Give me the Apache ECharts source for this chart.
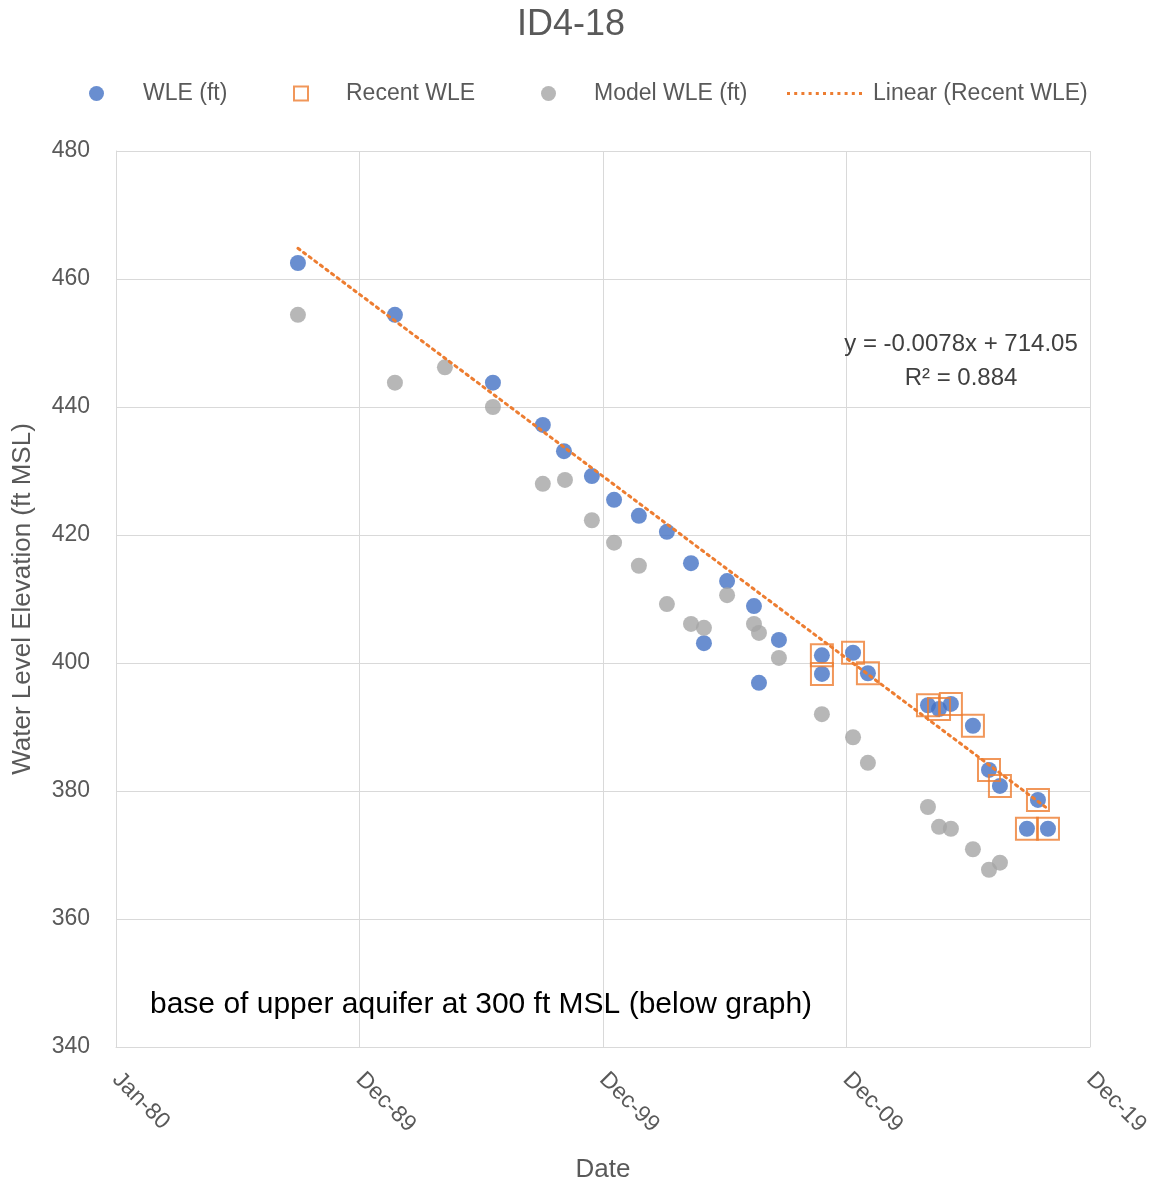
<!DOCTYPE html>
<html>
<head>
<meta charset="utf-8">
<script src="https://cdn.jsdelivr.net/npm/echarts@6/dist/echarts.min.js"></script>
<style>
  html, body { margin: 0; padding: 0; background: #ffffff; }
  #chart { width: 1154px; height: 1187px; }
</style>
</head>
<body>
<div id="chart"></div>
<script>
// ---- data ----
var xTickLabels = ['Jan-80', 'Dec-89', 'Dec-99', 'Dec-09', 'Dec-19'];
var yTicks = [340, 360, 380, 400, 420, 440, 460, 480];

var wleDates = ['1987-06-20','1991-06-13','1995-06-21','1997-07-08','1998-05-21','1999-07-13','2000-06-10',
  '2001-06-17','2002-08-11','2003-08-07','2004-02-17','2005-01-29','2006-03-08','2006-05-22','2007-03-17',
  '2008-12-20','2008-12-21','2010-04-01','2010-11-10','2013-04-28','2013-10-11','2014-04-07','2015-03-03',
  '2015-10-30','2016-04-11','2017-05-21','2017-11-02','2018-04-01'];
var wleValues = [462.5,454.4,443.8,437.2,433.1,429.2,425.5,
  423.0,420.5,415.6,403.1,412.8,408.9,396.9,403.6,
  401.2,398.3,401.6,398.4,393.4,392.8,393.6,390.2,
  383.3,380.8,374.1,378.6,374.1];

var recentDates = ['2008-12-20','2008-12-21','2010-04-01','2010-11-10','2013-04-28','2013-10-11','2014-04-07',
  '2015-03-03','2015-10-30','2016-04-11','2017-05-21','2017-11-02','2018-04-01'];
var recentValues = [401.2,398.3,401.6,398.4,393.4,392.8,393.6,390.2,383.3,380.8,374.1,378.6,374.1];

var modelDates = ['1987-06-20','1991-06-13','1993-07-01','1995-06-21','1997-07-08','1998-06-05','1999-07-13',
  '2000-06-10','2001-06-17','2002-08-11','2003-08-07','2004-02-17','2005-01-29','2006-03-08','2006-05-22',
  '2007-03-17','2008-12-20','2010-04-01','2010-11-10','2013-04-28','2013-10-11','2014-04-07','2015-03-03',
  '2015-10-30','2016-04-11'];
var modelValues = [454.4,443.8,446.2,440.0,428.0,428.6,422.3,
  418.8,415.2,409.2,406.1,405.5,410.6,406.1,404.7,
  400.8,392.0,388.4,384.4,377.5,374.4,374.1,370.9,
  367.7,368.8];

var trendDates = ['1987-06-20', '2018-04-01'];
var trendValues = [464.8, 377.2];

var equationText = 'y = -0.0078x + 714.05';
var r2Text = 'R\u00B2 = 0.884';
var noteText = 'base of upper aquifer at 300 ft MSL (below graph)';

// ---- helpers ----
var EXCEL_EPOCH = Date.UTC(1899, 11, 30);
function serial(s) {
  return Math.round((Date.parse(s + 'T00:00:00Z') - EXCEL_EPOCH) / 86400000);
}
function pairs(dates, values) {
  return dates.map(function (d, i) { return [serial(d), values[i]]; });
}
var X_MIN = serial('1980-01-01');
var X_INT = 3650;
var X_MAX = X_MIN + X_INT * (xTickLabels.length - 1);

// dotted legend icon (a row of small squares)
var dotPath = 'path://';
for (var k = 0; k < 11; k++) {
  var x0 = k * 7.2;
  dotPath += 'M' + x0.toFixed(1) + ',0h3v3h-3z';
}

var FONT = '"Liberation Sans", Arial, sans-serif';
var GREY_TXT = '#595959';

var chart = echarts.init(document.getElementById('chart'), null, { renderer: 'canvas' });

var option = {
  backgroundColor: '#ffffff',
  animation: false,
  title: {
    text: 'ID4-18',
    left: 512,
    top: 2,
    textStyle: { fontFamily: FONT, fontSize: 36, fontWeight: 'normal', color: GREY_TXT }
  },
  legend: [
    {
      left: 84, top: 77, itemWidth: 15, itemHeight: 15,
      data: [{ name: 'WLE (ft)', icon: 'circle' }],
      textStyle: { fontFamily: FONT, fontSize: 23, color: GREY_TXT, padding: [0, 0, 0, 34] }
    },
    {
      left: 288, top: 77, itemWidth: 14, itemHeight: 14,
      data: [{ name: 'Recent WLE', icon: 'rect',
        itemStyle: { color: 'rgba(0,0,0,0)', borderColor: '#ED7D31', borderWidth: 2 } }],
      textStyle: { fontFamily: FONT, fontSize: 23, color: GREY_TXT, padding: [0, 0, 0, 33] }
    },
    {
      left: 536, top: 77, itemWidth: 15, itemHeight: 15,
      data: [{ name: 'Model WLE (ft)', icon: 'circle' }],
      textStyle: { fontFamily: FONT, fontSize: 23, color: GREY_TXT, padding: [0, 0, 0, 33] }
    },
    {
      left: 782, top: 77, itemWidth: 75, itemHeight: 3,
      data: [{ name: 'Linear (Recent WLE)', icon: dotPath,
        itemStyle: { color: '#ED7D31', borderWidth: 0 } }],
      textStyle: { fontFamily: FONT, fontSize: 23, color: GREY_TXT, padding: [0, 0, 0, 6] }
    }
  ],
  grid: {
    left: 116, right: 64, top: 151, bottom: 140,
    containLabel: false, outerBoundsMode: 'none'
  },
  xAxis: {
    type: 'value',
    min: X_MIN, max: X_MAX, interval: X_INT,
    name: 'Date',
    nameLocation: 'middle',
    nameGap: 110,
    nameTextStyle: { fontFamily: FONT, fontSize: 26, color: GREY_TXT },
    axisLine: { show: true, lineStyle: { color: '#D9D9D9', width: 1 } },
    axisTick: { show: false },
    splitLine: { show: true, lineStyle: { color: '#D9D9D9', width: 1 } },
    axisLabel: {
      rotate: -45,
      margin: 29,
      fontFamily: FONT, fontSize: 23, color: GREY_TXT,
      showMinLabel: true, showMaxLabel: true,
      formatter: function (v) {
        var i = Math.round((v - X_MIN) / X_INT);
        return xTickLabels[i] || '';
      }
    }
  },
  yAxis: {
    type: 'value',
    min: yTicks[0], max: yTicks[yTicks.length - 1], interval: 20,
    name: 'Water Level Elevation (ft MSL)',
    nameLocation: 'middle',
    nameGap: 80,
    nameTextStyle: { fontFamily: FONT, fontSize: 26, color: GREY_TXT },
    axisLine: { show: true, lineStyle: { color: '#D9D9D9', width: 1 } },
    axisTick: { show: false },
    splitLine: { show: true, lineStyle: { color: '#D9D9D9', width: 1 } },
    axisLabel: { margin: 26, fontFamily: FONT, fontSize: 23, color: GREY_TXT }
  },
  series: [
    {
      name: 'WLE (ft)',
      type: 'scatter',
      symbol: 'circle',
      symbolSize: 16,
      itemStyle: { color: '#4472C4' },
      data: pairs(wleDates, wleValues),
      z: 2
    },
    {
      name: 'Recent WLE',
      type: 'scatter',
      symbol: 'rect',
      symbolSize: 22,
      itemStyle: { color: 'rgba(0,0,0,0)', borderColor: '#ED7D31', borderWidth: 2 },
      data: pairs(recentDates, recentValues),
      z: 3
    },
    {
      name: 'Model WLE (ft)',
      type: 'scatter',
      symbol: 'circle',
      symbolSize: 16,
      itemStyle: { color: '#A5A5A5' },
      data: pairs(modelDates, modelValues),
      z: 2
    },
    {
      name: 'Linear (Recent WLE)',
      type: 'line',
      symbol: 'none',
      showSymbol: false,
      lineStyle: { color: '#ED7D31', width: 3, type: [2.5, 4.5], cap: 'round' },
      itemStyle: { color: '#ED7D31' },
      data: pairs(trendDates, trendValues),
      z: 4
    }
  ],
  graphic: [
    {
      type: 'text', x: 961, y: 344, z: 10,
      style: { text: equationText, font: '24px ' + FONT, fill: '#404040',
        textAlign: 'center', textVerticalAlign: 'middle' }
    },
    {
      type: 'text', x: 961, y: 378, z: 10,
      style: { text: r2Text, font: '24px ' + FONT, fill: '#404040',
        textAlign: 'center', textVerticalAlign: 'middle' }
    },
    {
      type: 'text', x: 150, y: 1005, z: 10,
      style: { text: noteText, font: '30px ' + FONT, fill: '#000000',
        textAlign: 'left', textVerticalAlign: 'middle' }
    }
  ]
};

chart.setOption(option);
</script>
</body>
</html>
